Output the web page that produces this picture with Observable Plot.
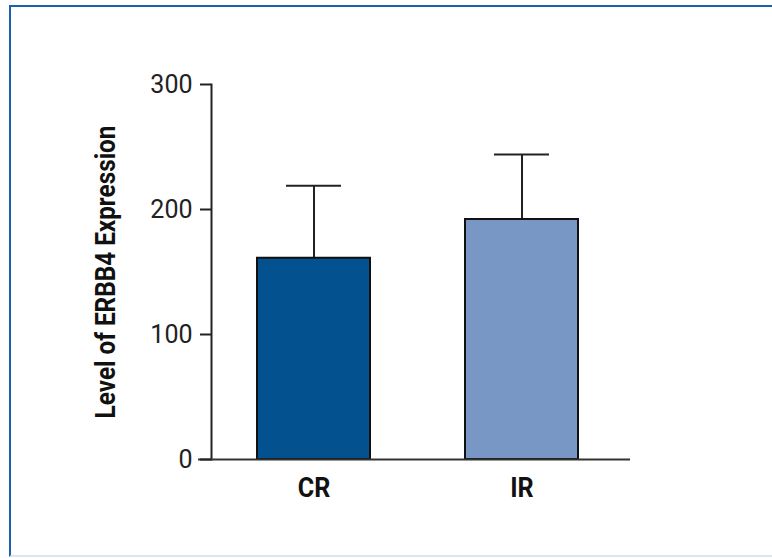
<!DOCTYPE html>
<html>
<head>
<meta charset="utf-8">
<script src="https://cdn.jsdelivr.net/npm/d3@7"></script>
<script src="https://cdn.jsdelivr.net/npm/@observablehq/plot@0.6"></script>
<style>
  html, body { margin: 0; padding: 0; background: #fff; }
  #wrap { position: relative; width: 772px; height: 558px; overflow: hidden; }
  #border { position: absolute; left: 9px; top: 5px; right: -10px; bottom: 1px;
            border-top: 2.5px solid #1c60ad; border-left: 2.5px solid #1c60ad;
            border-bottom: 2px solid #dde4ec; }
  #chart { position: absolute; left: 0; top: 0; }
</style>
</head>
<body>
<div id="wrap"><div id="border"></div><div id="chart"></div></div>
<script>
const groups = ["CR", "IR"];
const means = [161, 192];
const upperErrors = [219, 244];
const barColors = ["#03528f", "#7897c5"];
const yTicks = [0, 100, 200, 300];
const yLabel = "Level of ERBB4 Expression";

const data = groups.map((g, i) => ({group: g, value: means[i], upper: upperErrors[i], color: barColors[i]}));

const boldFont = "Roboto, sans-serif";

const chart = Plot.plot({
  width: 772,
  height: 558,
  marginLeft: 211,
  marginRight: 142,
  marginTop: 84,
  marginBottom: 99,
  style: {background: "transparent", fontFamily: "Roboto, sans-serif", color: "#222"},
  x: {domain: groups, range: [222, 613], paddingInner: 0.457, paddingOuter: 0.168, label: null},
  y: {domain: [0, 300], label: null},
  marks: [
    Plot.frame({anchor: "left", stroke: "#222", strokeWidth: 2}),
    Plot.ruleX(data, {x: "group", y1: "value", y2: "upper", stroke: "#222", strokeWidth: 2}),
    Plot.tickY(data, {x: "group", y: "upper", stroke: "#222", strokeWidth: 2, insetLeft: 29, insetRight: 29}),
    Plot.barY(data, {x: "group", y: "value", fill: "color", stroke: "#111", strokeWidth: 2}),
    Plot.ruleY([0], {stroke: "#333", strokeWidth: 2, insetLeft: -13}),
    Plot.axisY({ticks: yTicks, tickSize: 11, tickPadding: 8, fontSize: 25, stroke: "#222", strokeWidth: 2, label: null, fill: "#222"}),
    Plot.axisX({tickSize: 0, tickPadding: 18, fontSize: 28, fontWeight: "bold", fontFamily: boldFont, label: null, fill: "#111"}),
    Plot.text([yLabel], {frameAnchor: "left", rotate: -90, dx: -105, fontSize: 27, fontWeight: "bold", fontFamily: boldFont, fill: "#111", lineAnchor: "middle", textAnchor: "middle"})
  ]
});
document.getElementById("chart").appendChild(chart);

// emulate a condensed bold face by squeezing glyphs horizontally
d3.select(chart).selectAll("text").each(function () {
  const t = this.textContent;
  let factor = null;
  if (t === yLabel) factor = 0.9;
  else if (groups.includes(t)) factor = 0.9;
  if (factor) {
    const len = this.getComputedTextLength();
    this.setAttribute("textLength", (len * factor).toFixed(1));
    this.setAttribute("lengthAdjust", "spacingAndGlyphs");
  }
});
</script>
</body>
</html>
